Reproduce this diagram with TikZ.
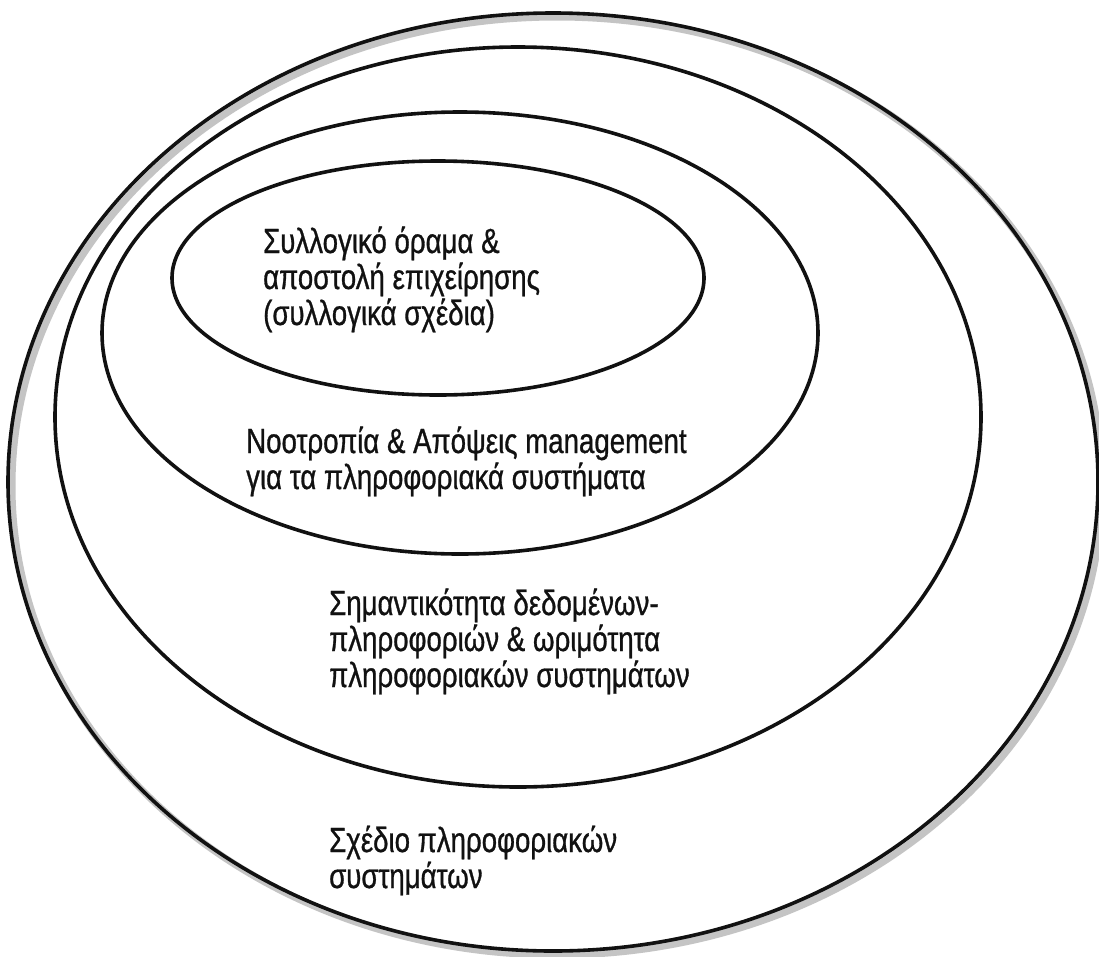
\documentclass[tikz,border=0pt]{standalone}
\usepackage{fontspec}
\setmainfont{Liberation Sans}[FakeStretch=0.79,FakeBold=0.8]
\usetikzlibrary{shapes.geometric}
\definecolor{mink}{HTML}{111111}
\definecolor{mshade}{HTML}{C4C4C4}
\tikzstyle{ring} = [ellipse, draw=mink, line width=3.6pt, inner sep=0pt, outer sep=0pt]
\tikzstyle{ringtext} = [align=left, anchor=base west, inner sep=0pt, text=mink, font=\fontsize{35}{36}\selectfont]

\begin{document}
\begin{tikzpicture}[x=1pt,y=-1pt]
  \useasboundingbox (0,0) rectangle (1099,956);
  \fill[white] (0,0) rectangle (1099,956);
  % rings, outer to inner
  \node (shadow) [ring, draw=mshade, line width=7pt, minimum width=1090pt, minimum height=938pt] at (557,486) {};
  \node (plan) [ring, minimum width=1090pt, minimum height=938pt] at (553,482) {};
  \node (data) [ring, minimum width=926pt, minimum height=740pt] at (518,417) {};
  \node (mgmt) [ring, minimum width=716pt, minimum height=442pt] at (460,333) {};
  \node (vision) [ring, minimum width=532pt, minimum height=234pt] at (438,278) {};
  % texts (anchored on the last line)
  \node (visiontext) [ringtext] at (263,325) {Συλλογικό όραμα \&\\αποστολή επιχείρησης\\(συλλογικά σχέδια)};
  \node (mgmttext) [ringtext] at (246,489) {Νοοτροπία \& Απόψεις management\\για τα πληροφοριακά συστήματα};
  \node (datatext) [ringtext] at (329,687) {Σημαντικότητα δεδομένων-\\πληροφοριών \& ωριμότητα\\πληροφοριακών συστημάτων};
  \node (plantext) [ringtext] at (329,888) {Σχέδιο πληροφοριακών\\συστημάτων};
\end{tikzpicture}
\end{document}
